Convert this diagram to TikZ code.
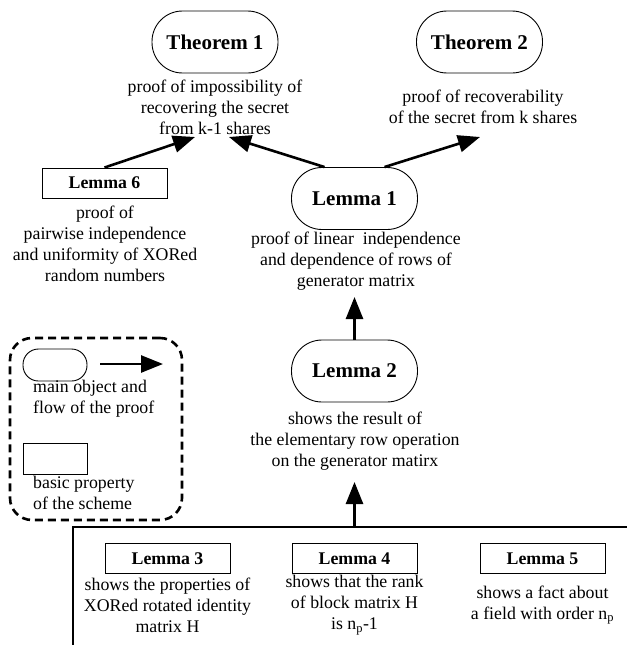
\documentclass[tikz,border=0pt]{standalone}
\usepackage{fontspec}
\setmainfont{Liberation Serif}
\usetikzlibrary{arrows.meta}
\begin{document}
\begin{tikzpicture}[x=1pt,y=-1pt,
  stadium/.style={draw, line width=0.9pt, rounded corners=30.5pt, minimum width=126pt, minimum height=62pt, inner sep=0pt, font=\fontsize{21}{24}\selectfont\bfseries},
  lembox/.style={draw, line width=0.9pt, minimum width=125pt, minimum height=30pt, inner sep=0pt, font=\fontsize{17.8}{21}\selectfont\bfseries},
  desc/.style={align=center, inner sep=0pt, font=\fontsize{17.8}{21}\selectfont},
  legtext/.style={align=left, inner sep=0pt, anchor=west, font=\fontsize{17.8}{21}\selectfont},
  flow/.style={line width=2.6pt, -{Triangle[length=22pt,width=17pt]}},
  legframe/.style={draw, line width=2.6pt, dash pattern=on 8pt off 5pt, rounded corners=22pt},
]
\useasboundingbox (0,0) rectangle (627,645);

% main nodes
\node[stadium] (t1) at (215,42) {Theorem 1};
\node[desc] (t1d) at (215,107) {proof of impossibility of\\ recovering the secret\\ from k-1 shares};
\node[stadium] (t2) at (479.5,42) {Theorem 2};
\node[desc] (t2d) at (483,106.5) {proof of recoverability\\ of the secret from k shares};

\node[lembox] (l6) at (104.5,183) {Lemma 6};
\node[desc] (l6d) at (105,244) {proof of\\ pairwise independence\\ and uniformity of XORed\\ random numbers};

\node[stadium] (l1) at (354.5,198.5) {Lemma 1};
\node[desc] (l1d) at (356,261.5) {proof of linear~ independence\\ and dependence of rows of\\ generator matrix};

\node[stadium] (l2) at (354.5,371) {Lemma 2};
\node[desc] (l2d) at (355,441) {shows the result of\\ the elementary row operation\\ on the generator matirx};

\node[lembox] (l3) at (167.5,558.5) {Lemma 3};
\node[desc] (l3d) at (167.5,605) {shows the properties of\\ XORed rotated identity\\ matrix H};
\node[lembox] (l4) at (354.5,558.5) {Lemma 4};
\node[desc] (l4d) at (354.5,605) {shows that the rank\\ of block matrix H\\ is n\textsubscript{p}-1};
\node[lembox] (l5) at (542.5,558.5) {Lemma 5};
\node[desc] (l5d) at (542.5,605) {shows a fact about\\ a field with order n\textsubscript{p}};

% group frame (open to right and bottom)
\coordinate (fbl) at (73,645);
\coordinate (ftl) at (73,527);
\coordinate (ftr) at (627,527);
\coordinate (fmid) at (354.5,527);
\draw[line width=1.2pt] (fbl) -- (ftl) -- (ftr);

% arrow tips
\coordinate (t1a) at (195,137);
\coordinate (t1b) at (229,137);
\coordinate (t2a) at (480,137);
\coordinate (l1a) at (354.5,297);
\coordinate (l2a) at (354.5,482);

\draw[flow] (l6.north) -- (t1a);
\draw[flow] ([xshift=-30pt]l1.north) -- (t1b);
\draw[flow] ([xshift=30pt]l1.north) -- (t2a);
\draw[flow] (l2.north) -- (l1a);
\draw[flow] (fmid) -- (l2a);

% legend
\node[legframe, minimum width=172pt, minimum height=182pt] (leg) at (96,429) {};
\node[draw, line width=0.9pt, rounded corners=15.5pt, minimum width=64pt, minimum height=32pt, inner sep=0pt] (legs) at (55,365) {};
\coordinate (lga) at (100,364);
\coordinate (lgb) at (163,364);
\draw[flow] (lga) -- (lgb);
\node[legtext] (legt1) at (33,398.5) {main object and\\ flow of the proof};
\node[draw, line width=0.9pt, minimum width=64pt, minimum height=31pt, inner sep=0pt] (legr) at (55,458.5) {};
\node[legtext] (legt2) at (33,493) {basic property\\ of the scheme};
\end{tikzpicture}
\end{document}
